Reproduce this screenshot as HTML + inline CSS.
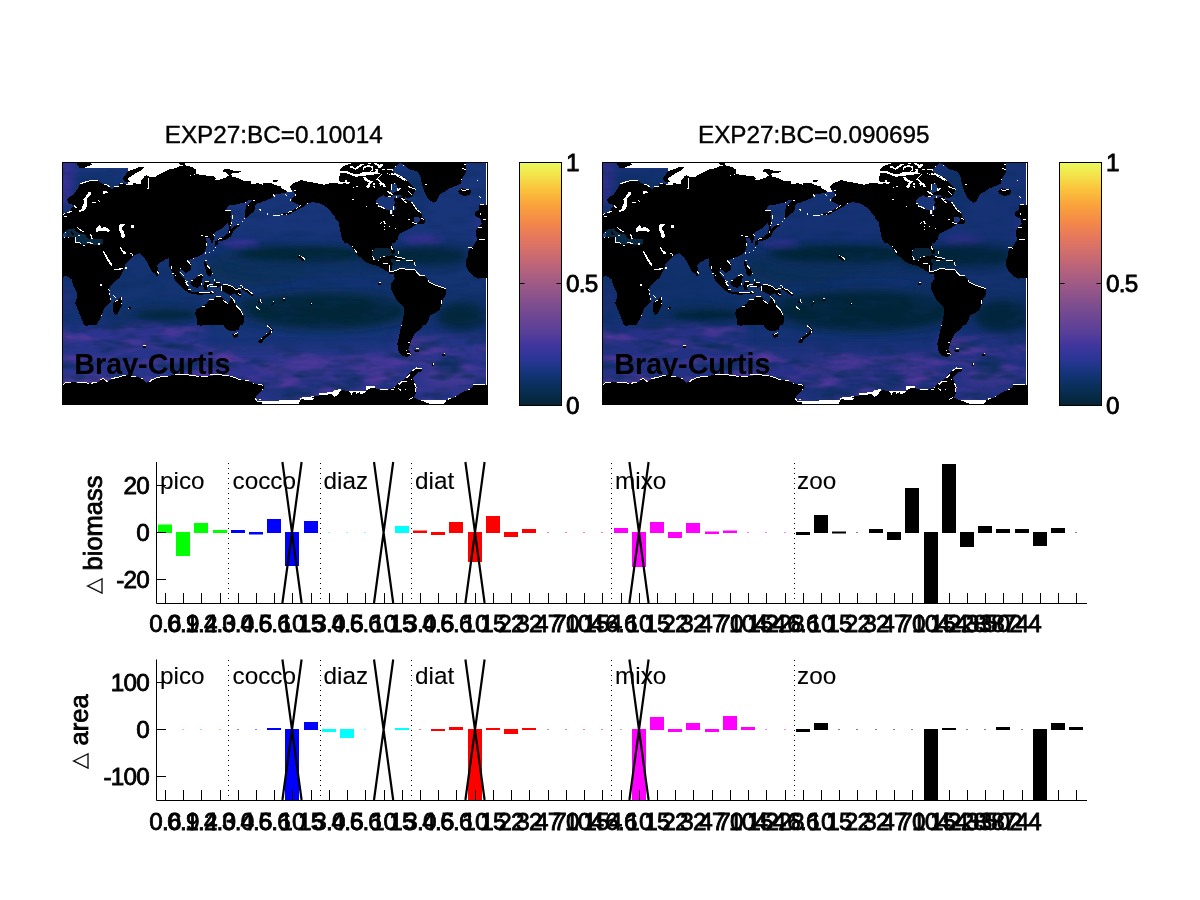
<!DOCTYPE html>
<html><head><meta charset="utf-8"><title>EXP27 Bray-Curtis</title>
<style>
html,body{margin:0;padding:0;background:#fff;}
body{width:1200px;height:900px;overflow:hidden;position:relative;}
svg{position:absolute;left:0;top:0;display:block;}
text{font-family:"Liberation Sans",Arial,Helvetica,sans-serif;fill:#000;stroke:#000;stroke-width:0.4px;}
text.d{stroke-width:0.8px;letter-spacing:-0.8px;}
text.y{stroke-width:0.8px;}
text.g{stroke-width:0.1px;}
text.b{stroke-width:0;}
</style></head><body>
<svg width="1200" height="900" viewBox="0 0 1200 900">
<defs>
<clipPath id="mclip"><rect x="62.5" y="162.5" width="425.0" height="242.0"/></clipPath>
<filter id="b1" x="-50%" y="-50%" width="200%" height="200%"><feGaussianBlur stdDeviation="1"/></filter><filter id="b2" x="-50%" y="-50%" width="200%" height="200%"><feGaussianBlur stdDeviation="2"/></filter><filter id="b3" x="-50%" y="-50%" width="200%" height="200%"><feGaussianBlur stdDeviation="3"/></filter><filter id="b4" x="-50%" y="-50%" width="200%" height="200%"><feGaussianBlur stdDeviation="4"/></filter><filter id="b5" x="-50%" y="-50%" width="200%" height="200%"><feGaussianBlur stdDeviation="5"/></filter><filter id="b6" x="-50%" y="-50%" width="200%" height="200%"><feGaussianBlur stdDeviation="6"/></filter><filter id="b7" x="-50%" y="-50%" width="200%" height="200%"><feGaussianBlur stdDeviation="7"/></filter><filter id="b8" x="-50%" y="-50%" width="200%" height="200%"><feGaussianBlur stdDeviation="8"/></filter><filter id="b9" x="-50%" y="-50%" width="200%" height="200%"><feGaussianBlur stdDeviation="9"/></filter><filter id="b10" x="-50%" y="-50%" width="200%" height="200%"><feGaussianBlur stdDeviation="10"/></filter>
<filter id="texp" x="0" y="0" width="100%" height="100%" color-interpolation-filters="sRGB">
<feTurbulence type="fractalNoise" baseFrequency="0.025 0.09" numOctaves="3" seed="7"/>
<feColorMatrix type="matrix" values="0 0 0 0 0.35  0 0 0 0 0.22  0 0 0 0 0.62  2.4 0 0 0 -1.1"/>
</filter>
<filter id="texd" x="0" y="0" width="100%" height="100%" color-interpolation-filters="sRGB">
<feTurbulence type="fractalNoise" baseFrequency="0.03 0.1" numOctaves="3" seed="23"/>
<feColorMatrix type="matrix" values="0 0 0 0 0.05  0 0 0 0 0.18  0 0 0 0 0.36  0 2.6 0 0 -1.2"/>
</filter>
<linearGradient id="sofade" x1="0" y1="0" x2="0" y2="1"><stop offset="0" stop-color="#fff" stop-opacity="0"/><stop offset="0.2" stop-color="#fff" stop-opacity="1"/><stop offset="1" stop-color="#fff" stop-opacity="1"/></linearGradient>
<mask id="somask"><g filter="url(#b5)"><rect x="40" y="326" width="165" height="90" fill="#fff"/><rect x="195" y="348" width="210" height="70" fill="#fff"/><rect x="395" y="336" width="115" height="80" fill="#fff"/></g></mask>
<linearGradient id="cbar" x1="0" y1="1" x2="0" y2="0">
<stop offset="0" stop-color="#042333"/>
<stop offset="0.06" stop-color="#082e52"/>
<stop offset="0.125" stop-color="#123474"/>
<stop offset="0.19" stop-color="#2a3696"/>
<stop offset="0.25" stop-color="#42369e"/>
<stop offset="0.31" stop-color="#5c4098"/>
<stop offset="0.375" stop-color="#704892"/>
<stop offset="0.5" stop-color="#9e5a86"/>
<stop offset="0.56" stop-color="#b6627c"/>
<stop offset="0.625" stop-color="#ce6c6e"/>
<stop offset="0.7" stop-color="#e87a5a"/>
<stop offset="0.75" stop-color="#f3874a"/>
<stop offset="0.83" stop-color="#faa53a"/>
<stop offset="0.9" stop-color="#fac83e"/>
<stop offset="0.95" stop-color="#f3e44b"/>
<stop offset="1" stop-color="#e8fa5b"/>
</linearGradient>
<g id="mapland" shape-rendering="crispEdges">
<path d="M82.9 161.8L170.9 161.8L170.9 187.5L127.8 187.5L127.8 168.2L82.9 168.2ZM169.1 161.8L280.9 161.8L280.9 187.5L169.1 187.5ZM279.1 161.8L390.9 161.8L390.9 187.5L292.4 187.5L292.4 192.3L279.1 192.3ZM485.8 162.3L487.4 162.3L487.4 242.5L485.8 242.5ZM485.8 241.1L487.4 241.1L487.4 324.5L485.8 324.5ZM256.2 400.5L280.9 400.5L280.9 404.9L256.2 404.9ZM279.1 400.1L301.1 400.1L301.1 404.9L279.1 404.9ZM299.7 397.8L314.8 396.0L314.8 401.9L299.7 401.9ZM319.0 392.8L332.2 392.3L333.2 390.9L340.5 388.6L341.0 396.4L319.0 397.3ZM348.8 391.4L367.1 390.5L367.1 394.6L348.8 395.5ZM365.7 386.1L374.9 386.3L375.3 390.0L365.7 390.0ZM379.9 388.8L388.2 388.8L388.2 390.5L379.9 390.5ZM485.8 323.1L487.4 323.1L487.4 384.5L485.8 384.5ZM419.3 399.9L446.8 399.9L443.2 404.9L429.4 404.9ZM473.0 383.8L485.3 383.8L485.3 386.3L473.0 386.3Z" fill="#fff"/>
<path d="M76.0 161.8L90.2 161.8L92.1 165.0L87.5 166.4L83.8 168.2L79.7 168.2L77.9 165.5ZM62.5 215.0L65.5 214.1L69.2 211.3L71.9 207.7L73.8 205.4L71.0 204.0L67.8 203.1L67.3 199.4L70.1 196.7L73.8 194.4L76.5 190.2L78.8 186.6L79.7 184.3L83.8 182.5L90.2 180.6L97.6 180.3L100.3 182.5L104.0 184.3L107.7 185.2L110.4 187.5L111.3 189.3L114.1 187.5L118.7 186.6L119.6 183.8L123.2 182.9L126.0 184.8L128.8 183.8L132.4 184.8L133.3 182.9L137.9 183.8L140.7 184.3L140.7 181.5L144.3 176.5L146.6 175.1L148.9 176.5L152.6 177.4L156.2 177.0L157.2 175.1L160.8 173.8L165.4 171.0L170.9 169.2L170.9 242.5L62.5 242.5ZM122.3 178.8L127.8 171.5L138.8 167.3L143.9 167.3L143.0 169.2L133.3 174.7L127.8 178.3L129.7 181.5L126.0 182.0ZM169.1 169.2L176.4 168.2L179.2 166.4L184.7 165.0L192.9 167.3L196.6 170.1L195.7 173.8L200.2 174.7L206.7 175.6L213.1 176.0L215.8 177.9L214.9 180.6L221.3 179.2L226.8 177.0L228.7 175.6L226.8 172.8L223.2 171.9L223.6 169.2L229.6 169.2L234.2 171.0L240.6 171.5L240.6 172.4L234.2 172.8L230.5 173.8L232.3 176.5L237.8 177.9L243.3 180.6L250.7 181.5L251.6 183.8L258.0 183.4L261.7 183.8L266.2 182.9L270.8 182.9L275.4 185.2L280.9 186.6L280.9 193.5L275.4 193.9L272.7 197.6L267.2 199.9L261.7 202.2L257.1 203.5L255.2 205.8L254.3 211.3L250.7 214.1L247.0 217.8L244.7 218.7L245.2 211.3L246.1 205.8L249.8 203.1L252.5 200.3L247.9 200.3L245.2 203.1L239.7 203.5L234.2 204.9L229.6 204.9L225.9 209.5L230.5 210.4L231.4 215.0L229.6 216.8L228.7 222.3L225.0 226.0L221.3 228.8L215.8 231.5L213.1 235.2L214.0 237.9L213.1 242.5L210.8 242.5L210.3 237.9L206.7 237.9L204.8 242.5L169.1 242.5ZM179.2 163.2L185.6 163.2L184.7 164.6L180.1 164.6ZM272.2 180.0L278.2 180.0L276.3 182.0L273.6 181.8ZM228.2 216.8L231.0 216.8L231.4 228.8L237.8 223.7L239.7 225.5L233.2 231.0L231.0 236.5L225.9 239.8L217.7 241.6L216.8 238.8L223.6 236.5L227.8 233.3L228.7 229.7ZM290.1 186.6L293.8 182.9L301.1 180.2L307.5 181.5L314.8 182.9L324.0 184.8L333.2 182.5L335.0 183.4L336.8 187.5L390.9 187.5L390.9 242.5L344.2 242.5L340.5 232.4L338.7 222.3L335.0 216.8L330.4 211.3L325.8 206.8L319.4 203.1L313.0 202.2L307.5 203.1L303.8 206.8L296.5 210.0L289.2 214.5L281.8 215.0L281.8 213.6L287.3 213.2L293.8 209.5L299.7 205.4L295.6 203.1L291.0 201.2L291.9 198.5L295.6 194.8L293.8 191.2L291.0 189.3ZM279.1 187.5L283.7 189.3L287.3 191.6L285.5 193.2L279.1 193.6ZM389.1 161.8L466.1 161.8L466.1 171.9L462.4 178.3L460.6 183.8L454.2 186.6L449.6 188.4L445.0 191.2L439.5 194.8L435.8 202.2L433.1 202.6L428.5 199.4L424.8 193.0L423.0 187.5L421.2 181.1L420.2 175.6L416.6 171.0L408.3 169.2L404.7 165.5L400.1 162.8L395.5 166.4L392.8 169.2L389.1 169.2ZM389.1 169.2L392.8 169.2L393.7 173.8L398.2 175.1L403.8 178.3L408.3 182.0L415.7 189.3L413.8 193.9L412.0 196.7L408.3 198.0L401.0 196.7L396.4 196.7L389.1 195.3ZM389.1 200.3L392.8 200.3L403.8 199.4L411.1 201.2L416.6 208.6L421.2 212.2L422.1 216.8L424.8 219.6L424.8 223.2L421.2 224.2L416.6 224.2L411.1 227.8L405.6 230.6L400.1 233.3L397.3 238.8L395.5 242.5L389.1 242.5ZM458.3 191.2L460.6 188.4L469.8 188.9L471.1 191.6L469.8 194.8L464.2 196.2L459.7 193.9ZM479.4 204.9L485.3 204.9L487.7 205.8L487.7 242.5L478.0 242.5L475.7 233.3L477.1 228.3L481.7 224.2L480.8 218.7L475.2 215.9L475.2 212.2L478.9 209.5ZM62.5 241.1L170.9 241.1L170.9 257.6L165.4 259.4L160.8 262.2L157.2 265.8L159.0 273.2L157.2 276.8L155.3 274.1L151.7 271.3L148.0 264.0L144.3 257.6L139.8 253.0L133.3 255.8L129.7 260.3L125.1 264.9L124.2 268.6L122.3 272.2L119.6 277.8L115.0 281.4L111.3 285.1L108.6 289.7L109.5 294.2L110.4 299.8L111.3 301.6L107.7 304.3L104.0 308.9L102.2 314.4L99.4 319.9L96.7 324.5L83.8 324.5L82.0 319.9L78.3 310.8L75.1 302.5L77.4 297.0L76.5 291.5L72.8 285.1L71.9 279.6L66.4 275.9L62.5 276.8ZM113.6 301.6L116.8 300.7L120.5 297.0L122.3 297.0L122.3 304.3L119.6 309.8L117.8 313.5L115.0 314.9L113.2 311.7L113.2 306.2ZM127.8 307.5L130.6 307.1L130.6 308.9L128.3 309.4ZM169.1 241.1L206.7 241.1L206.7 246.6L204.8 252.1L202.1 254.8L197.5 256.7L192.9 258.5L188.3 260.3L191.1 264.0L191.1 269.5L185.6 273.2L183.8 271.3L180.1 268.6L179.2 272.2L181.9 276.8L185.6 280.5L186.5 284.2L189.2 288.8L188.3 290.6L184.7 286.0L180.1 283.2L177.3 280.5L174.6 276.8L172.8 273.2L169.1 265.8ZM173.7 275.5L176.4 275.9L180.1 281.4L184.7 286.0L188.3 289.7L192.0 292.0L200.2 292.2L210.3 292.0L214.9 292.4L214.0 293.8L206.7 294.2L200.2 294.7L192.0 294.2L187.4 292.0L181.9 287.8L178.2 284.2L174.6 279.6ZM214.5 241.1L218.6 241.1L217.7 244.8L215.4 246.1ZM204.8 260.3L206.7 264.9L210.3 267.7L212.2 273.2L210.3 276.8L206.7 275.0L205.8 269.5L203.9 264.0ZM192.0 280.5L197.5 276.8L201.2 274.1L203.0 275.9L202.1 280.5L201.2 285.1L197.5 287.8L192.9 286.9L190.2 283.2ZM204.8 281.4L210.3 280.5L209.4 284.2L206.7 286.0L207.6 289.7L204.8 290.6L203.0 286.0ZM214.0 282.3L219.5 282.3L221.3 286.0L217.7 287.8L213.1 286.0ZM221.3 286.0L225.0 284.2L230.5 286.0L236.0 287.8L239.7 289.7L241.5 293.3L240.6 297.0L237.8 295.2L234.2 293.3L230.5 295.2L226.8 293.3L223.2 291.5L219.5 289.7ZM241.5 285.1L243.3 287.8L247.9 289.7L253.4 294.2L252.5 296.5L247.0 292.4L242.4 289.7L240.6 286.9ZM258.0 301.6L260.8 299.8L261.7 303.4L258.9 303.4ZM270.8 305.2L274.5 301.6L275.4 302.5L271.8 306.2ZM195.7 309.8L202.1 306.2L206.7 303.4L209.4 299.8L214.0 298.8L215.8 296.1L221.3 297.0L225.0 300.7L228.7 303.4L230.5 298.8L231.4 296.1L233.2 298.8L235.1 303.4L237.8 306.2L240.6 310.8L243.3 315.3L244.2 319.9L243.3 324.5L197.5 324.5L196.6 318.1L195.2 314.4ZM390.9 241.1L390.9 273.6L386.3 271.3L380.8 267.7L377.2 265.8L369.8 264.0L364.3 261.2L360.7 257.6L357.9 255.8L353.3 249.3L349.7 245.7L346.9 241.1ZM297.4 256.7L299.7 255.8L304.8 258.5L305.2 260.3L302.5 260.8ZM282.3 298.4L285.0 298.4L285.0 300.7L282.8 300.7ZM378.1 282.8L380.4 282.3L380.8 284.6L378.5 284.9ZM310.1 303.0L312.1 303.0L312.1 304.8L310.1 304.8ZM389.1 272.2L393.7 271.3L399.2 269.0L402.8 268.1L406.5 269.5L414.8 269.5L416.6 272.2L419.3 275.0L424.8 275.5L427.6 279.6L429.4 282.3L433.1 284.2L439.5 286.5L445.9 288.8L445.9 294.2L443.2 298.8L441.8 304.3L439.5 309.8L435.8 312.6L430.3 315.3L428.5 319.9L426.2 324.5L401.9 324.5L403.8 314.4L403.8 307.1L400.1 303.4L396.4 299.8L393.7 294.2L390.9 288.8L391.4 283.2L394.6 278.7L393.7 274.1L389.1 274.1ZM389.1 241.1L391.8 241.1L392.8 247.5L395.5 252.1L393.7 253.9L389.1 253.0ZM389.1 254.8L394.6 255.8L399.2 256.7L404.7 258.5L403.8 260.3L396.4 260.3L393.7 259.0L389.1 258.5ZM405.6 259.9L413.8 260.3L414.0 261.7L406.0 261.4ZM487.7 241.1L487.7 277.8L481.7 277.8L478.9 278.7L475.2 277.3L471.6 274.1L467.9 270.4L466.1 265.8L466.1 260.3L467.9 255.8L468.8 249.3L472.5 247.5L476.2 241.1ZM389.1 260.3L392.8 263.1L391.8 269.5L389.1 271.3ZM95.8 323.1L92.1 324.9L85.7 325.8L82.9 323.1ZM62.5 384.5L65.5 382.7L71.0 382.2L78.3 382.7L87.5 383.1L96.7 382.7L101.2 379.9L103.1 378.5L107.7 381.8L111.3 379.0L118.7 377.2L126.0 374.9L131.5 376.7L137.9 377.2L142.5 379.0L146.2 382.7L151.7 379.9L157.2 377.6L164.5 376.2L170.9 376.2L170.9 404.9L62.5 404.9ZM143.0 346.0L145.7 346.0L145.7 347.8L143.0 347.8ZM169.1 376.2L175.5 374.0L188.3 374.9L199.3 376.2L208.5 376.2L217.7 374.9L228.7 375.8L234.2 377.2L237.8 379.0L245.2 380.4L252.5 382.7L258.0 384.5L263.5 385.4L263.5 389.1L259.8 392.8L256.2 396.4L255.2 399.2L258.0 401.9L261.7 401.9L261.7 404.9L169.1 404.9ZM209.4 323.1L206.7 324.9L200.2 325.8L196.6 323.1ZM241.0 323.1L238.8 329.5L234.2 331.3L228.7 330.4L225.0 327.7L222.2 323.1ZM232.3 334.5L237.8 332.2L238.3 335.9L235.1 338.7L232.8 336.8ZM258.0 341.4L261.7 337.8L265.3 335.0L269.0 332.2L270.8 329.5L267.2 325.8L269.0 324.9L273.1 329.5L271.8 333.2L267.2 336.8L263.5 340.5L260.8 343.7ZM299.2 404.9L299.7 400.5L301.1 399.2L303.8 399.4L307.5 400.1L312.1 400.5L313.9 398.7L311.2 397.3L314.8 396.4L319.4 395.5L331.3 394.1L335.0 396.9L338.7 393.7L340.5 390.9L343.2 390.0L349.7 391.8L351.5 395.0L353.3 391.8L355.2 391.4L356.1 393.7L359.8 392.3L360.7 394.6L366.2 391.8L368.0 389.5L370.8 388.2L375.3 388.2L379.9 390.0L390.9 389.8L390.9 404.9ZM401.9 323.1L424.8 323.1L420.2 329.5L414.8 333.2L412.0 338.7L410.2 344.2L408.3 349.7L411.1 353.3L410.2 355.2L406.5 357.0L401.9 355.6L398.7 351.5L397.3 344.2L399.2 335.9L400.5 329.5ZM414.3 350.4L418.9 349.9L418.6 351.5L415.2 351.7ZM442.2 353.5L445.0 353.5L445.0 355.6L442.4 355.6ZM432.0 363.4L434.2 363.4L434.2 365.7L432.2 365.7ZM389.1 389.1L394.6 387.2L397.3 383.6L401.9 380.8L405.6 378.1L408.3 374.4L412.0 370.8L416.6 367.5L422.1 368.5L422.5 370.8L417.5 372.6L413.8 376.2L412.9 379.0L414.8 382.7L416.6 387.2L415.7 393.7L413.8 397.3L417.5 399.2L421.2 400.5L429.4 403.8L430.3 404.9L389.1 404.9ZM443.2 404.9L446.8 400.1L454.2 397.3L461.5 392.8L467.9 390.0L472.5 387.2L473.4 385.0L485.3 385.2L487.7 384.5L487.7 404.9ZM340.2 169.3L343.8 165.8L349.6 164.1L352.5 162.6L399.8 162.6L395.7 165.8L393.3 169.3L393.3 171.7L395.7 173.4L398.0 174.6L400.9 176.9L405.0 177.5L405.0 224.2L400.9 225.9L398.6 231.8L398.0 240.0L342.6 240.0L340.8 234.7L339.7 224.2L337.3 220.1L334.7 218.3L334.7 183.3L337.3 183.3L339.7 183.9L344.9 183.3L349.0 184.5L349.6 182.2L347.2 182.2L347.2 180.4L345.5 180.1L344.9 182.2L340.8 182.2L338.5 180.4L339.1 177.5L340.2 174.0Z" fill="#000"/>
<path d="M88.4 192.1L91.2 192.5L90.7 194.4L86.6 198.5L86.6 201.2L87.5 204.0L86.1 208.6L84.8 210.4L79.7 211.8L78.3 210.9L82.0 208.6L82.5 205.8L84.3 203.1L83.4 199.4L85.7 196.7ZM92.1 202.0L96.2 202.0L96.2 203.1L92.1 203.1ZM103.1 191.3L107.2 191.2L107.7 193.0L103.5 193.7ZM95.3 230.1L96.7 227.8L99.4 225.1L100.8 226.5L101.2 228.3L104.9 226.9L107.7 228.3L110.0 230.6L108.6 232.0L104.0 230.6L100.3 231.0L96.7 232.0ZM118.7 225.5L121.0 224.2L125.1 224.2L124.2 226.0L122.3 226.9L122.3 229.7L124.2 232.4L125.1 236.1L123.2 237.9L120.5 237.0L120.5 233.3L118.7 229.7ZM131.0 225.3L133.8 225.1L133.8 227.8L131.3 227.8ZM102.6 251.2L104.0 250.7L107.7 257.6L111.8 263.5L112.2 265.8L110.9 265.8L106.8 259.4ZM120.0 247.0L121.0 247.0L123.2 250.7L126.5 252.5L125.5 253.9L123.2 253.5L121.0 250.2ZM129.7 253.0L132.4 253.5L133.3 255.8L132.4 255.9L131.5 254.4L129.5 253.9ZM114.1 269.0L123.2 268.1L123.2 269.0L115.0 270.6L114.1 270.4ZM124.6 266.9L126.5 266.9L126.5 268.6L124.6 268.6ZM99.9 284.0L102.2 284.0L101.7 285.5L100.2 285.8ZM340.2 171.1L346.7 171.1L349.6 172.5L354.2 174.0L358.3 174.0L362.4 172.5L367.7 172.2L372.3 172.5L375.8 171.1L378.2 172.5L379.9 173.7L373.5 174.6L367.7 174.6L365.3 176.0L360.1 176.0L357.2 176.9L353.7 176.3L349.6 174.0L345.5 173.1L340.2 173.4ZM350.2 165.8L352.5 166.4L355.4 168.2L358.3 165.8L360.7 164.1L363.6 163.5L364.2 165.2L362.4 165.2L360.1 167.0L357.2 169.3L354.8 169.6L352.5 168.2L350.2 167.6ZM364.2 166.4L367.7 165.2L372.3 165.8L373.5 167.6L372.3 171.1L370.0 171.7L371.8 169.3L371.2 167.6L367.7 167.0L364.8 167.9L363.0 170.5L362.4 168.8ZM374.1 163.2L377.0 163.5L379.3 164.7L382.2 164.1L383.1 165.2L381.1 167.6L377.6 167.6L378.2 165.8L375.8 165.2ZM375.2 168.8L377.6 168.8L378.5 172.5L376.7 172.5L375.8 170.5ZM382.2 168.8L385.2 168.8L385.2 169.9L382.2 169.9ZM386.9 168.8L391.0 168.8L391.0 169.9L386.9 169.9ZM391.9 168.8L393.3 169.3L393.3 171.1L392.2 170.8ZM363.0 176.9L365.3 176.3L367.7 179.2L371.2 181.0L372.9 180.4L372.3 182.8L370.0 184.5L369.4 187.4L367.7 188.0L365.3 186.8L367.7 184.5L368.8 182.2L365.3 181.0L363.6 178.7ZM383.4 174.0L381.1 175.2L379.3 177.5L377.6 178.7L380.5 181.0L382.8 182.8L385.2 184.5L385.8 186.8L383.4 187.4L382.8 185.1L380.5 185.7L379.3 183.3L380.5 182.8L378.2 180.4L375.8 179.2L377.0 178.1L379.3 175.8L381.1 174.0ZM372.9 183.0L375.8 183.9L375.2 185.1L373.5 184.8ZM372.9 186.2L375.2 186.2L374.7 187.7L372.9 187.4ZM352.5 186.8L354.2 186.8L354.2 188.0L352.5 188.0ZM355.7 186.0L358.0 186.0L358.0 186.8L355.7 186.8ZM351.9 198.8L354.2 198.8L354.2 200.0L351.9 200.0ZM386.9 173.1L389.2 173.7L389.8 174.9L387.5 174.0ZM391.0 173.7L396.2 173.4L398.0 175.2L399.8 176.9L405.0 179.8L405.0 181.0L400.9 178.7L396.8 176.3L395.7 174.6L391.0 174.9ZM368.2 163.0L371.2 163.0L371.2 163.8L368.2 163.8ZM365.9 205.8L367.1 205.8L367.1 207.0L365.9 207.0Z" fill="#fff"/>
<path d="M391.8 183.8L395.5 183.4L396.9 186.6L395.5 190.2L392.3 190.2ZM414.3 217.3L419.3 216.8L419.8 220.5L417.5 222.8L414.3 221.9Z" fill="#1d3a80"/><path d="M372.6 250.2L376.2 248.0L383.6 247.5L388.2 248.4L390.9 249.3L390.9 255.8L384.5 256.7L380.8 257.6L378.1 260.3L374.4 260.3L372.1 255.8Z" fill="#062339"/><path d="M375.8 200.8L378.2 197.9L381.1 196.2L383.4 195.3L385.2 196.8L387.5 197.3L391.0 197.3L393.3 195.0L400.9 195.0L402.1 197.3L393.3 197.9L394.5 200.8L394.5 203.8L393.9 206.1L395.7 207.2L395.7 209.0L393.3 210.2L392.8 214.2L391.9 214.2L391.6 210.2L389.8 209.6L386.3 209.6L384.0 207.8L381.1 206.7L378.2 204.9L376.1 203.2Z" fill="#1a347a"/><path d="M392.2 184.5L395.7 183.9L396.8 185.7L395.7 188.0L399.2 187.4L399.8 189.2L396.2 191.5L393.3 193.2L391.0 192.7L389.8 190.3L392.2 188.6L391.6 186.2Z" fill="#143a74"/><path d="M63.2 233.1L65.8 230.2L70.5 228.7L74.0 228.4L75.2 230.8L78.7 233.1L83.3 234.2L85.7 234.8L86.8 237.8L89.2 239.5L92.7 238.9L97.3 238.9L103.2 239.5L103.2 243.0L100.8 244.8L93.8 244.8L89.2 243.0L85.7 244.2L82.2 244.8L79.8 243.0L76.3 241.8L75.8 237.2L71.7 236.6L68.2 236.9L63.2 237.2Z" fill="#082a45"/><path d="M63.2 233.7L65.2 232.5L66.4 234.2L65.8 236.6L63.2 236.9Z" fill="#1a3a8a"/><path d="M71.1 230.2L73.4 232.5L74.3 235.4L72.0 235.1L70.8 232.5ZM77.5 229.6L79.2 230.3L81.0 232.5L79.2 232.5Z" fill="#000000"/>
<path d="M391.0 183.6L392.2 183.6L392.2 187.4L391.0 187.4ZM393.6 183.0L395.1 183.0L395.1 183.9L393.6 183.9ZM386.9 190.9L388.7 190.9L392.8 194.4L391.6 195.0L387.5 192.1ZM396.8 189.8L399.8 188.0L400.9 188.6L398.0 191.5ZM388.1 196.2L391.0 196.2L391.0 197.0L388.1 197.0ZM396.0 195.9L397.1 195.9L397.1 197.9L396.0 197.9ZM400.9 197.9L405.0 199.1L405.0 200.2L400.9 198.8ZM375.8 202.9L378.2 202.9L378.2 204.0L375.8 204.0ZM378.2 205.2L381.1 206.1L384.6 207.8L384.6 209.0L381.1 207.5L378.2 206.4ZM390.1 210.2L391.6 210.2L391.6 213.7L390.1 213.7ZM391.9 214.8L393.9 214.8L393.9 216.0L391.9 216.0ZM392.8 206.1L394.2 206.1L394.2 207.8L392.8 207.8ZM379.9 223.0L381.7 221.8L382.0 222.7L380.5 223.9ZM383.1 221.0L384.6 221.0L385.8 223.0L385.8 223.9L384.3 223.9L384.0 222.1L383.1 221.8ZM383.9 225.9L385.1 225.9L385.1 227.1L383.9 227.1ZM388.8 225.9L389.9 225.9L389.9 227.1L388.8 227.1ZM383.9 228.8L385.1 228.8L385.1 230.0L383.9 230.0ZM394.8 228.0L396.0 228.0L396.0 229.1L394.8 229.1ZM64.1 216.1L67.0 216.1L66.4 216.9L64.1 216.9ZM76.9 227.0L78.1 227.0L78.1 228.1L76.9 228.1ZM79.8 229.9L81.0 229.9L81.0 231.0L79.8 231.0ZM82.2 231.0L83.9 231.0L83.9 231.9L82.2 231.9ZM78.1 234.8L80.1 234.8L80.1 236.0L78.1 236.0ZM90.0 234.0L90.9 233.7L92.1 235.4L91.5 235.9ZM90.9 238.0L93.0 238.0L93.0 238.9L90.9 238.9ZM74.9 237.2L75.8 237.2L75.8 241.8L79.8 241.9L81.0 243.9L80.1 244.0L79.5 242.7L74.9 242.5ZM83.0 244.8L85.1 244.8L85.1 245.9L83.0 245.9ZM87.1 241.7L89.8 241.7L89.8 242.5L87.1 242.5ZM90.0 243.0L93.0 243.0L93.0 243.9L90.0 243.9ZM97.9 243.0L100.2 243.0L100.2 245.0L97.9 245.0ZM63.5 236.9L65.0 236.9L65.0 237.9L63.5 237.9ZM67.9 236.9L69.0 236.9L69.0 237.9L67.9 237.9ZM64.7 231.9L65.8 231.9L65.8 233.1L64.7 233.1Z" fill="#fff"/>
</g>
<g id="mapover"><path d="M79.7 184.0L83.8 182.5L90.2 180.6L97.6 180.3M104.0 184.3L107.7 185.2L110.4 187.5M114.1 187.0L118.7 186.1M119.6 183.7L123.2 182.9M126.0 184.6L132.4 184.6M148.0 177.4L148.5 187.5L147.5 189.3M63.2 214.1L65.5 213.6M67.3 212.2L71.9 211.8M73.8 205.4L76.5 208.1M98.5 199.9L99.4 201.7M77.4 227.8L82.9 231.5M90.2 234.2L92.1 237.9M225.5 210.2L230.5 210.9M232.3 215.0L232.8 218.7M231.4 222.3L231.9 224.2M230.5 225.5L231.0 226.0M236.9 225.1L238.8 224.2M242.4 221.4L242.9 221.9M244.2 218.2L244.7 218.7M245.6 202.3L246.1 203.1M248.4 204.9L248.8 205.4M253.0 200.3L254.8 200.3M259.4 208.6L260.8 210.9M267.2 213.2L267.6 215.0M273.1 215.5L280.0 215.5M273.6 194.4L274.5 196.7M262.1 184.3L262.6 184.8M201.2 235.6L203.0 235.6M204.8 236.1L207.6 236.1M213.5 234.2L214.5 235.6M229.6 231.0L229.8 232.9M217.7 239.3L221.8 238.4M190.2 175.1L190.6 175.6M194.3 174.2L194.8 174.7M285.0 194.8L287.3 195.3M294.7 195.3L296.0 194.8M290.3 199.4L290.5 200.8M293.8 190.2L295.6 190.4M306.6 204.5L307.5 202.6M299.2 207.2L300.6 205.4M295.6 208.6L297.9 207.8M288.2 212.2L291.5 211.3M280.9 214.1L282.8 214.1M286.4 213.6L286.9 214.5M332.2 213.6L332.4 214.5M390.9 173.8L397.3 174.5L403.8 178.3L407.4 181.5M408.3 186.6L415.7 189.2M408.3 191.2L412.0 195.3M397.3 188.4L400.1 190.2M401.0 198.0L406.5 203.1M411.5 201.7L416.6 209.5L420.7 212.7M421.2 218.2L424.4 219.6M411.5 222.8L416.6 223.2M408.3 219.6L409.7 219.8M390.5 169.6L392.8 169.2M395.5 166.4L395.7 166.9M402.8 165.5L403.8 165.7M424.8 185.2L426.7 184.0M460.6 188.9L463.3 190.7L468.8 189.3M464.7 164.1L465.6 164.6M462.4 168.7L465.6 169.2M461.5 178.8L461.7 179.7M477.3 180.2L477.4 181.5M478.5 196.7L480.8 197.1M479.4 204.0L484.4 204.5M482.6 219.6L485.8 219.1M478.0 227.6L481.7 227.6M478.9 239.3L485.3 239.0M480.3 213.2L480.6 215.0M391.4 184.3L391.4 190.2M390.9 192.1L391.1 194.8M393.7 206.3L393.7 210.0M390.9 212.2L391.4 214.1M392.3 215.5L393.7 215.5M395.5 228.3L395.7 228.8M76.5 242.5L79.7 242.5M82.9 245.2L84.8 245.2M87.5 242.5L93.0 243.4M98.0 243.4L99.9 243.7M108.6 289.2L109.5 290.6M109.3 293.3L109.7 295.2M110.2 298.4L110.6 299.8M113.2 295.6L115.9 297.5M115.0 301.6L117.8 300.2M121.2 297.5L121.4 299.8M121.2 303.0L121.4 304.3M127.8 308.5L128.8 308.0M101.2 315.3L101.7 315.8M157.4 271.3L158.5 273.6M206.2 242.9L206.7 246.1M215.4 247.0L215.8 248.0M213.1 250.2L213.5 251.2M209.0 252.5L209.4 252.8M205.3 252.5L205.8 254.4M187.0 260.3L190.6 264.5M192.9 258.5L193.4 259.0M204.8 260.3L206.7 260.5M206.7 265.4L210.3 268.6M212.2 273.2L212.3 273.6M171.4 266.3L171.7 268.6M172.3 273.6L173.7 273.6M175.0 275.5L175.5 275.9M180.1 268.6L180.5 269.5M180.1 272.2L183.8 275.9M185.1 280.5L187.0 281.4L185.6 282.8L188.3 286.0M188.3 289.7L190.6 289.9M190.6 280.7L192.9 280.5M198.4 275.5L201.6 274.3L202.5 276.4M201.2 283.2L201.6 284.6M204.8 281.4L209.4 281.6M214.0 279.1L214.5 281.4M215.8 282.3L220.0 282.8M207.6 286.9L208.0 285.1L213.1 284.6M210.3 286.5L216.8 286.5M199.3 292.4L209.9 292.2M211.2 291.5L214.0 292.6M221.3 286.5L221.8 290.6M223.2 284.6L226.8 284.6L232.3 286.5L236.0 289.7L240.6 288.3M240.1 285.5L242.4 286.0L242.9 287.4M244.2 288.8L247.9 290.1L253.0 294.2M237.8 293.8L240.6 294.2M215.8 296.1L221.3 297.0M209.4 299.8L213.5 299.3M202.1 306.6L204.8 306.4M223.2 300.7L227.8 303.4M230.5 296.1L234.2 300.7L235.1 303.4M236.0 305.2L240.6 310.3L243.3 315.3M260.3 299.3L261.2 303.0M273.1 302.0L274.5 301.6M256.2 306.6L259.8 310.0M352.4 246.1L352.6 246.6M354.2 249.3L357.5 253.5M299.2 255.6L299.7 255.9M301.1 256.2L304.8 259.2M372.1 250.4L372.4 250.8M372.4 255.8L374.4 260.3M378.1 260.3L378.5 260.6M380.4 257.6L380.8 257.1M383.1 256.5L385.0 256.5M383.1 263.5L388.2 263.5M389.5 265.4L389.5 271.8M379.0 282.3L380.6 282.8M282.8 298.4L284.6 298.6M311.0 303.2L311.6 303.6M391.4 245.7L392.3 249.8M398.2 251.2L398.4 254.4M395.0 256.5L404.7 258.7M396.0 260.3L400.1 260.3M406.5 260.3L413.4 261.1M413.8 261.7L415.7 266.3M389.1 271.5L393.7 271.3L399.2 269.0L402.8 268.1L406.5 269.5L414.8 269.5L416.6 272.2L419.3 275.0L424.8 275.5M427.6 279.6L429.4 282.3L433.1 284.2L439.5 286.5L445.9 288.8M441.3 299.8L441.5 304.3M467.9 247.5L473.0 248.2M63.2 385.0L65.5 382.7L71.0 382.0M77.4 382.7L89.3 383.1M91.2 383.1L96.7 382.7M100.3 379.9L103.1 378.5L107.7 381.8M111.3 378.8L118.7 377.0L126.0 374.9M130.6 376.7L136.1 377.0M140.7 378.5L143.4 378.8M148.9 382.2L151.7 379.9L157.2 377.6L164.5 376.2L168.2 376.2M143.4 345.5L145.7 345.8M175.5 374.2L188.3 374.9L199.3 376.4M201.2 376.2L208.5 376.4M210.3 374.9L217.7 374.6L228.7 375.6M229.6 376.2L234.2 377.2L237.8 379.0L240.6 379.0M245.2 380.4L248.8 380.8M252.5 382.7L254.3 383.6M258.0 384.5L263.5 385.2M261.7 389.5L263.0 389.8M255.2 398.7L258.0 401.9L261.7 401.0M259.4 399.4L261.2 399.7M234.2 334.5L237.7 332.7M267.2 325.8L271.8 329.5M266.2 332.7L266.4 333.6M261.7 338.2L262.1 338.7M271.3 330.9L271.6 333.2M401.0 325.4L401.5 325.8M407.9 342.3L409.7 342.3M406.0 350.6L406.5 351.0M407.4 353.5L410.9 354.1M416.1 348.6L418.6 348.9M444.1 353.5L444.5 354.1M433.1 363.4L433.3 364.8M412.5 370.8L416.6 368.0L422.5 369.1M406.5 378.1L410.2 374.4M410.6 379.0L412.5 379.5M398.2 382.7L399.2 384.5L401.9 381.3L407.0 381.8M394.1 387.2L395.5 386.8M390.9 389.5L393.7 389.3M398.2 388.2L401.0 390.5M405.6 389.1L406.5 389.5M414.3 382.7L416.1 387.2L415.7 391.8M409.2 399.6L413.4 397.3M447.8 399.2L450.5 398.4M455.1 396.6L455.5 397.0M467.9 389.5L469.8 389.3" fill="none" stroke="#fff" stroke-width="1" shape-rendering="crispEdges" clip-path="url(#mclip)"/></g>
</defs>
<rect width="1200" height="900" fill="#fff"/>
<g transform="translate(0,0)">
<g clip-path="url(#mclip)">
<rect x="62.5" y="162.5" width="425.0" height="242.0" fill="#18357a"/>
<ellipse cx="66" cy="180" rx="9" ry="25" fill="#3a3298" opacity="0.9" filter="url(#b4)"/>
<ellipse cx="100" cy="186" rx="28" ry="7" fill="#0c3262" opacity="0.7" filter="url(#b4)"/>
<rect x="40" y="250" width="470" height="75" fill="#0c3262" opacity="0.35" filter="url(#b8)"/>
<ellipse cx="258" cy="268" rx="52" ry="17" fill="#093257" opacity="0.9" filter="url(#b4)"/>
<ellipse cx="240" cy="195" rx="12" ry="10" fill="#3a3298" opacity="0.35" filter="url(#b4)"/>
<ellipse cx="300" cy="256" rx="85" ry="12" fill="#0c3262" opacity="0.9" filter="url(#b5)"/>
<ellipse cx="310" cy="268" rx="78" ry="9" fill="#0c3262" opacity="0.7" filter="url(#b4)"/>
<ellipse cx="302" cy="254" rx="66" ry="7.5" fill="#052538" opacity="1" filter="url(#b3)"/>
<ellipse cx="241" cy="244" rx="19" ry="4" fill="#3a3298" opacity="0.95" filter="url(#b2)"/>
<ellipse cx="328" cy="310" rx="96" ry="22" fill="#0c3262" opacity="1" filter="url(#b5)"/>
<ellipse cx="326" cy="311" rx="78" ry="16.5" fill="#052538" opacity="1" filter="url(#b4)"/>
<ellipse cx="262" cy="305" rx="25" ry="6" fill="#052538" opacity="0.8" filter="url(#b4)"/>
<ellipse cx="330" cy="283" rx="42" ry="3" fill="#18357a" opacity="0.7" filter="url(#b3)"/>
<ellipse cx="160" cy="314" rx="46" ry="10" fill="#0c3262" opacity="0.8" filter="url(#b5)"/>
<ellipse cx="166" cy="315" rx="30" ry="4.5" fill="#052538" opacity="0.95" filter="url(#b3)"/>
<ellipse cx="130" cy="334" rx="50" ry="7" fill="#3a3298" opacity="0.8" filter="url(#b5)"/>
<rect x="40" y="328" width="165" height="82" fill="#2d3590" opacity="0.75" filter="url(#b6)"/>
<rect x="195" y="350" width="210" height="60" fill="#2d3590" opacity="0.75" filter="url(#b6)"/>
<rect x="395" y="338" width="115" height="72" fill="#2d3590" opacity="0.75" filter="url(#b6)"/>
<ellipse cx="85" cy="386" rx="28" ry="10" fill="#5f3ea0" opacity="0.75" filter="url(#b6)"/>
<ellipse cx="230" cy="380" rx="30" ry="12" fill="#3a3298" opacity="0.6" filter="url(#b6)"/>
<ellipse cx="300" cy="368" rx="40" ry="8" fill="#5f3ea0" opacity="0.45" filter="url(#b6)"/>
<ellipse cx="372" cy="365" rx="30" ry="8" fill="#5f3ea0" opacity="0.45" filter="url(#b6)"/>
<ellipse cx="450" cy="378" rx="30" ry="10" fill="#5f3ea0" opacity="0.5" filter="url(#b6)"/>
<ellipse cx="295" cy="392" rx="30" ry="7" fill="#0c3262" opacity="0.5" filter="url(#b5)"/>
<ellipse cx="424" cy="240" rx="20" ry="4.5" fill="#3a3298" opacity="0.9" filter="url(#b3)"/>
<ellipse cx="432" cy="256" rx="37" ry="10" fill="#052538" opacity="0.9" filter="url(#b4)"/>
<ellipse cx="390" cy="258" rx="26" ry="9" fill="#052538" opacity="0.9" filter="url(#b3)"/>
<ellipse cx="462" cy="316" rx="26" ry="14" fill="#052538" opacity="0.9" filter="url(#b5)"/>
<ellipse cx="417" cy="185" rx="10" ry="16" fill="#0c3262" opacity="0.7" filter="url(#b4)"/>
<ellipse cx="481" cy="235" rx="6" ry="30" fill="#3a3298" opacity="0.45" filter="url(#b4)"/>
<ellipse cx="68" cy="300" rx="6" ry="14" fill="#3a3298" opacity="0.4" filter="url(#b4)"/>
<g mask="url(#somask)"><rect x="62" y="322" width="426" height="84" filter="url(#texp)"/><rect x="62" y="322" width="426" height="84" filter="url(#texd)"/></g>
<rect x="62" y="162" width="426" height="166" filter="url(#texd)" opacity="0.5"/>
<use href="#mapland"/>
</g>
<text x="74.3" y="373.5" font-size="28.7" font-weight="bold" class="b">Bray-Curtis</text>
<use href="#mapover"/>
<rect x="62.5" y="162.5" width="425.0" height="242.0" fill="none" stroke="#000" stroke-width="1"/>
<text x="273.8" y="143.3" text-anchor="middle" font-size="24.3">EXP27:BC=0.10014</text>
<rect x="519.5" y="162.5" width="42" height="243" fill="url(#cbar)" stroke="#000" stroke-width="1"/>
<path d="M519.5 283.5h5M561.5 283.5h-5" stroke="#000"/>
<text x="566" y="171" font-size="24.3" class="d">1</text>
<text x="566" y="292" font-size="24.3" class="d">0.5</text>
<text x="566" y="413.7" font-size="24.3" class="d">0</text>
</g>
<g transform="translate(540,0)">
<g clip-path="url(#mclip)">
<rect x="62.5" y="162.5" width="425.0" height="242.0" fill="#18357a"/>
<ellipse cx="66" cy="180" rx="9" ry="25" fill="#3a3298" opacity="0.765" filter="url(#b4)"/>
<ellipse cx="100" cy="186" rx="29.4" ry="7.7" fill="#0c3262" opacity="0.7" filter="url(#b4)"/>
<rect x="40" y="250" width="470" height="75" fill="#0c3262" opacity="0.35" filter="url(#b8)"/>
<ellipse cx="258" cy="268" rx="52" ry="17" fill="#093257" opacity="0.9" filter="url(#b4)"/>
<ellipse cx="240" cy="195" rx="12" ry="10" fill="#3a3298" opacity="0.2975" filter="url(#b4)"/>
<ellipse cx="300" cy="256" rx="89.25" ry="13.2" fill="#0c3262" opacity="0.9" filter="url(#b5)"/>
<ellipse cx="310" cy="268" rx="81.9" ry="9.9" fill="#0c3262" opacity="0.7" filter="url(#b4)"/>
<ellipse cx="302" cy="254" rx="72.6" ry="8.625" fill="#052538" opacity="1" filter="url(#b3)"/>
<ellipse cx="241" cy="244" rx="19" ry="4" fill="#3a3298" opacity="0.8075" filter="url(#b2)"/>
<ellipse cx="328" cy="310" rx="100.8" ry="24.2" fill="#0c3262" opacity="1" filter="url(#b5)"/>
<ellipse cx="326" cy="311" rx="85.8" ry="18.975" fill="#052538" opacity="1" filter="url(#b4)"/>
<ellipse cx="262" cy="305" rx="27.5" ry="6.9" fill="#052538" opacity="0.8" filter="url(#b4)"/>
<ellipse cx="330" cy="283" rx="42" ry="3" fill="#18357a" opacity="0.7" filter="url(#b3)"/>
<ellipse cx="160" cy="314" rx="48.3" ry="11" fill="#0c3262" opacity="0.8" filter="url(#b5)"/>
<ellipse cx="166" cy="315" rx="33" ry="5.175" fill="#052538" opacity="0.95" filter="url(#b3)"/>
<ellipse cx="130" cy="334" rx="50" ry="7" fill="#3a3298" opacity="0.68" filter="url(#b5)"/>
<rect x="40" y="328" width="165" height="82" fill="#2d3590" opacity="0.6375" filter="url(#b6)"/>
<rect x="195" y="350" width="210" height="60" fill="#2d3590" opacity="0.6375" filter="url(#b6)"/>
<rect x="395" y="338" width="115" height="72" fill="#2d3590" opacity="0.6375" filter="url(#b6)"/>
<ellipse cx="85" cy="386" rx="28" ry="10" fill="#5f3ea0" opacity="0.6375" filter="url(#b6)"/>
<ellipse cx="230" cy="380" rx="30" ry="12" fill="#3a3298" opacity="0.51" filter="url(#b6)"/>
<ellipse cx="300" cy="368" rx="40" ry="8" fill="#5f3ea0" opacity="0.3825" filter="url(#b6)"/>
<ellipse cx="372" cy="365" rx="30" ry="8" fill="#5f3ea0" opacity="0.3825" filter="url(#b6)"/>
<ellipse cx="450" cy="378" rx="30" ry="10" fill="#5f3ea0" opacity="0.425" filter="url(#b6)"/>
<ellipse cx="295" cy="392" rx="31.5" ry="7.7" fill="#0c3262" opacity="0.5" filter="url(#b5)"/>
<ellipse cx="424" cy="240" rx="20" ry="4.5" fill="#3a3298" opacity="0.765" filter="url(#b3)"/>
<ellipse cx="432" cy="256" rx="40.7" ry="11.5" fill="#052538" opacity="0.9" filter="url(#b4)"/>
<ellipse cx="390" cy="258" rx="28.6" ry="10.35" fill="#052538" opacity="0.9" filter="url(#b3)"/>
<ellipse cx="462" cy="316" rx="28.6" ry="16.1" fill="#052538" opacity="0.9" filter="url(#b5)"/>
<ellipse cx="417" cy="185" rx="10.5" ry="17.6" fill="#0c3262" opacity="0.7" filter="url(#b4)"/>
<ellipse cx="481" cy="235" rx="6" ry="30" fill="#3a3298" opacity="0.3825" filter="url(#b4)"/>
<ellipse cx="68" cy="300" rx="6" ry="14" fill="#3a3298" opacity="0.34" filter="url(#b4)"/>
<rect x="40" y="150" width="470" height="270" fill="#06243c" opacity="0.08" filter="url(#b1)"/>
<g mask="url(#somask)"><rect x="62" y="322" width="426" height="84" filter="url(#texp)"/><rect x="62" y="322" width="426" height="84" filter="url(#texd)"/></g>
<rect x="62" y="162" width="426" height="166" filter="url(#texd)" opacity="0.5"/>
<use href="#mapland"/>
</g>
<text x="74.3" y="373.5" font-size="28.7" font-weight="bold" class="b">Bray-Curtis</text>
<use href="#mapover"/>
<rect x="62.5" y="162.5" width="425.0" height="242.0" fill="none" stroke="#000" stroke-width="1"/>
<text x="273.8" y="143.3" text-anchor="middle" font-size="24.3">EXP27:BC=0.090695</text>
<rect x="519.5" y="162.5" width="42" height="243" fill="url(#cbar)" stroke="#000" stroke-width="1"/>
<path d="M519.5 283.5h5M561.5 283.5h-5" stroke="#000"/>
<text x="566" y="171" font-size="24.3" class="d">1</text>
<text x="566" y="292" font-size="24.3" class="d">0.5</text>
<text x="566" y="413.7" font-size="24.3" class="d">0</text>
</g>
<g id="chart1">
<rect x="285.0" y="532.0" width="14" height="34.0" fill="#0000ff"/>
<rect x="468.0" y="532.0" width="14" height="30.0" fill="#ff0000"/>
<rect x="632.0" y="532.0" width="14" height="35.0" fill="#ff00ff"/>
<rect x="158.0" y="524.5" width="14" height="8.5" fill="#00ff00"/>
<rect x="176.0" y="532.0" width="14" height="24.0" fill="#00ff00"/>
<rect x="194.0" y="523.0" width="14" height="10.0" fill="#00ff00"/>
<rect x="213.0" y="530.0" width="14" height="3.0" fill="#00ff00"/>
<rect x="231.0" y="530.0" width="14" height="3.0" fill="#0000ff"/>
<rect x="249.0" y="532.0" width="14" height="2.5" fill="#0000ff"/>
<rect x="267.0" y="519.0" width="14" height="14.0" fill="#0000ff"/>
<rect x="304.0" y="521.0" width="14" height="12.0" fill="#0000ff"/>
<rect x="328.5" y="532.0" width="1" height="1" fill="#00ffff"/>
<rect x="346.5" y="532.0" width="1" height="1" fill="#00ffff"/>
<rect x="364.5" y="532.0" width="1" height="1" fill="#00ffff"/>
<rect x="395.0" y="526.0" width="14" height="7.0" fill="#00ffff"/>
<rect x="413.0" y="530.5" width="14" height="2.5" fill="#ff0000"/>
<rect x="431.0" y="532.0" width="14" height="3.0" fill="#ff0000"/>
<rect x="449.0" y="522.0" width="14" height="11.0" fill="#ff0000"/>
<rect x="486.0" y="516.0" width="14" height="17.0" fill="#ff0000"/>
<rect x="504.0" y="532.0" width="14" height="5.0" fill="#ff0000"/>
<rect x="522.0" y="529.0" width="14" height="4.0" fill="#ff0000"/>
<rect x="547.5" y="532.0" width="1" height="1" fill="#ff0000"/>
<rect x="565.5" y="532.0" width="1" height="1" fill="#ff0000"/>
<rect x="583.5" y="532.0" width="1" height="1" fill="#ff0000"/>
<rect x="601.5" y="532.0" width="1" height="1" fill="#ff0000"/>
<rect x="614.0" y="528.0" width="14" height="5.0" fill="#ff00ff"/>
<rect x="650.0" y="522.0" width="14" height="11.0" fill="#ff00ff"/>
<rect x="668.0" y="532.0" width="14" height="6.0" fill="#ff00ff"/>
<rect x="686.0" y="523.0" width="14" height="10.0" fill="#ff00ff"/>
<rect x="705.0" y="531.5" width="14" height="2.5" fill="#ff00ff"/>
<rect x="723.0" y="530.5" width="14" height="2.5" fill="#ff00ff"/>
<rect x="747.5" y="532.0" width="1" height="1" fill="#ff00ff"/>
<rect x="765.5" y="532.0" width="1" height="1" fill="#ff00ff"/>
<rect x="784.5" y="532.0" width="1" height="1" fill="#ff00ff"/>
<rect x="796.0" y="532.0" width="14" height="3.0" fill="#000000"/>
<rect x="814.0" y="515.0" width="14" height="18.0" fill="#000000"/>
<rect x="832.0" y="531.5" width="14" height="2.0" fill="#000000"/>
<rect x="856.5" y="532.0" width="1" height="1" fill="#000000"/>
<rect x="869.0" y="529.0" width="14" height="4.0" fill="#000000"/>
<rect x="887.0" y="532.0" width="14" height="8.0" fill="#000000"/>
<rect x="905.0" y="488.0" width="14" height="45.0" fill="#000000"/>
<rect x="924.0" y="532.0" width="14" height="71.0" fill="#000000"/>
<rect x="942.0" y="464.0" width="14" height="69.0" fill="#000000"/>
<rect x="960.0" y="532.0" width="14" height="15.0" fill="#000000"/>
<rect x="978.0" y="526.0" width="14" height="7.0" fill="#000000"/>
<rect x="996.0" y="529.0" width="14" height="4.0" fill="#000000"/>
<rect x="1015.0" y="529.0" width="14" height="4.0" fill="#000000"/>
<rect x="1033.0" y="532.0" width="14" height="14.0" fill="#000000"/>
<rect x="1051.0" y="528.0" width="14" height="5.0" fill="#000000"/>
<rect x="1075.5" y="532.0" width="1" height="1" fill="#000000"/>
<line x1="228.5" y1="463" x2="228.5" y2="603" stroke="#000" stroke-width="1" stroke-dasharray="1 4"/>
<line x1="320.5" y1="463" x2="320.5" y2="603" stroke="#000" stroke-width="1" stroke-dasharray="1 4"/>
<line x1="411.5" y1="463" x2="411.5" y2="603" stroke="#000" stroke-width="1" stroke-dasharray="1 4"/>
<line x1="611.5" y1="463" x2="611.5" y2="603" stroke="#000" stroke-width="1" stroke-dasharray="1 4"/>
<line x1="794.5" y1="463" x2="794.5" y2="603" stroke="#000" stroke-width="1" stroke-dasharray="1 4"/>
<path d="M156.5 462 V603.5 H1087" fill="none" stroke="#000" stroke-width="1"/>
<line x1="165.5" y1="593" x2="165.5" y2="603" stroke="#000"/>
<line x1="183.5" y1="593" x2="183.5" y2="603" stroke="#000"/>
<line x1="201.5" y1="593" x2="201.5" y2="603" stroke="#000"/>
<line x1="220.5" y1="593" x2="220.5" y2="603" stroke="#000"/>
<line x1="238.5" y1="593" x2="238.5" y2="603" stroke="#000"/>
<line x1="256.5" y1="593" x2="256.5" y2="603" stroke="#000"/>
<line x1="274.5" y1="593" x2="274.5" y2="603" stroke="#000"/>
<line x1="292.5" y1="593" x2="292.5" y2="603" stroke="#000"/>
<line x1="311.5" y1="593" x2="311.5" y2="603" stroke="#000"/>
<line x1="329.5" y1="593" x2="329.5" y2="603" stroke="#000"/>
<line x1="347.5" y1="593" x2="347.5" y2="603" stroke="#000"/>
<line x1="365.5" y1="593" x2="365.5" y2="603" stroke="#000"/>
<line x1="384.5" y1="593" x2="384.5" y2="603" stroke="#000"/>
<line x1="402.5" y1="593" x2="402.5" y2="603" stroke="#000"/>
<line x1="420.5" y1="593" x2="420.5" y2="603" stroke="#000"/>
<line x1="438.5" y1="593" x2="438.5" y2="603" stroke="#000"/>
<line x1="456.5" y1="593" x2="456.5" y2="603" stroke="#000"/>
<line x1="475.5" y1="593" x2="475.5" y2="603" stroke="#000"/>
<line x1="493.5" y1="593" x2="493.5" y2="603" stroke="#000"/>
<line x1="511.5" y1="593" x2="511.5" y2="603" stroke="#000"/>
<line x1="529.5" y1="593" x2="529.5" y2="603" stroke="#000"/>
<line x1="548.5" y1="593" x2="548.5" y2="603" stroke="#000"/>
<line x1="566.5" y1="593" x2="566.5" y2="603" stroke="#000"/>
<line x1="584.5" y1="593" x2="584.5" y2="603" stroke="#000"/>
<line x1="602.5" y1="593" x2="602.5" y2="603" stroke="#000"/>
<line x1="621.5" y1="593" x2="621.5" y2="603" stroke="#000"/>
<line x1="639.5" y1="593" x2="639.5" y2="603" stroke="#000"/>
<line x1="657.5" y1="593" x2="657.5" y2="603" stroke="#000"/>
<line x1="675.5" y1="593" x2="675.5" y2="603" stroke="#000"/>
<line x1="693.5" y1="593" x2="693.5" y2="603" stroke="#000"/>
<line x1="712.5" y1="593" x2="712.5" y2="603" stroke="#000"/>
<line x1="730.5" y1="593" x2="730.5" y2="603" stroke="#000"/>
<line x1="748.5" y1="593" x2="748.5" y2="603" stroke="#000"/>
<line x1="766.5" y1="593" x2="766.5" y2="603" stroke="#000"/>
<line x1="785.5" y1="593" x2="785.5" y2="603" stroke="#000"/>
<line x1="803.5" y1="593" x2="803.5" y2="603" stroke="#000"/>
<line x1="821.5" y1="593" x2="821.5" y2="603" stroke="#000"/>
<line x1="839.5" y1="593" x2="839.5" y2="603" stroke="#000"/>
<line x1="857.5" y1="593" x2="857.5" y2="603" stroke="#000"/>
<line x1="876.5" y1="593" x2="876.5" y2="603" stroke="#000"/>
<line x1="894.5" y1="593" x2="894.5" y2="603" stroke="#000"/>
<line x1="912.5" y1="593" x2="912.5" y2="603" stroke="#000"/>
<line x1="931.5" y1="593" x2="931.5" y2="603" stroke="#000"/>
<line x1="949.5" y1="593" x2="949.5" y2="603" stroke="#000"/>
<line x1="967.5" y1="593" x2="967.5" y2="603" stroke="#000"/>
<line x1="985.5" y1="593" x2="985.5" y2="603" stroke="#000"/>
<line x1="1003.5" y1="593" x2="1003.5" y2="603" stroke="#000"/>
<line x1="1022.5" y1="593" x2="1022.5" y2="603" stroke="#000"/>
<line x1="1040.5" y1="593" x2="1040.5" y2="603" stroke="#000"/>
<line x1="1058.5" y1="593" x2="1058.5" y2="603" stroke="#000"/>
<line x1="1076.5" y1="593" x2="1076.5" y2="603" stroke="#000"/>
<line x1="156" y1="485.5" x2="166" y2="485.5" stroke="#000"/>
<text x="149" y="494" text-anchor="end" font-size="24.3" class="d">20</text>
<line x1="156" y1="532.5" x2="166" y2="532.5" stroke="#000"/>
<text x="149" y="541" text-anchor="end" font-size="24.3" class="d">0</text>
<line x1="156" y1="579.5" x2="166" y2="579.5" stroke="#000"/>
<text x="149" y="588" text-anchor="end" font-size="24.3" class="d">-20</text>
<path d="M282.4 462 L301.6 603 M301.6 462 L282.4 603" stroke="#000" stroke-width="2.2" fill="none"/>
<path d="M374.0 462 L393.2 603 M393.2 462 L374.0 603" stroke="#000" stroke-width="2.2" fill="none"/>
<path d="M465.4 462 L484.6 603 M484.6 462 L465.4 603" stroke="#000" stroke-width="2.2" fill="none"/>
<path d="M629.4 462 L648.6 603 M648.6 462 L629.4 603" stroke="#000" stroke-width="2.2" fill="none"/>
<text x="160" y="489.3" font-size="24.3" class="g">pico</text>
<text x="232.5" y="489.3" font-size="24.3" class="g">cocco</text>
<text x="323.5" y="489.3" font-size="24.3" class="g">diaz</text>
<text x="415" y="489.3" font-size="24.3" class="g">diat</text>
<text x="615" y="489.3" font-size="24.3" class="g">mixo</text>
<text x="797" y="489.3" font-size="24.3" class="g">zoo</text>
<text x="165.0" y="632" text-anchor="middle" font-size="24.3" class="d">0.6</text>
<text x="183.0" y="632" text-anchor="middle" font-size="24.3" class="d">0.9</text>
<text x="201.0" y="632" text-anchor="middle" font-size="24.3" class="d">1.4</text>
<text x="219.6" y="632" text-anchor="middle" font-size="24.3" class="d">2.0</text>
<text x="237.8" y="632" text-anchor="middle" font-size="24.3" class="d">3.0</text>
<text x="256.1" y="632" text-anchor="middle" font-size="24.3" class="d">4.5</text>
<text x="274.3" y="632" text-anchor="middle" font-size="24.3" class="d">6.6</text>
<text x="292.0" y="632" text-anchor="middle" font-size="24.3" class="d">10</text>
<text x="310.7" y="632" text-anchor="middle" font-size="24.3" class="d">15</text>
<text x="329.0" y="632" text-anchor="middle" font-size="24.3" class="d">3.0</text>
<text x="347.2" y="632" text-anchor="middle" font-size="24.3" class="d">4.5</text>
<text x="365.4" y="632" text-anchor="middle" font-size="24.3" class="d">6.6</text>
<text x="383.6" y="632" text-anchor="middle" font-size="24.3" class="d">10</text>
<text x="401.9" y="632" text-anchor="middle" font-size="24.3" class="d">15</text>
<text x="420.0" y="632" text-anchor="middle" font-size="24.3" class="d">3.0</text>
<text x="438.0" y="632" text-anchor="middle" font-size="24.3" class="d">4.5</text>
<text x="456.0" y="632" text-anchor="middle" font-size="24.3" class="d">6.6</text>
<text x="475.0" y="632" text-anchor="middle" font-size="24.3" class="d">10</text>
<text x="493.0" y="632" text-anchor="middle" font-size="24.3" class="d">15</text>
<text x="511.0" y="632" text-anchor="middle" font-size="24.3" class="d">22</text>
<text x="529.0" y="632" text-anchor="middle" font-size="24.3" class="d">32</text>
<text x="547.7" y="632" text-anchor="middle" font-size="24.3" class="d">47</text>
<text x="565.9" y="632" text-anchor="middle" font-size="24.3" class="d">70</text>
<text x="584.1" y="632" text-anchor="middle" font-size="24.3" class="d">104</text>
<text x="602.3" y="632" text-anchor="middle" font-size="24.3" class="d">154</text>
<text x="621.0" y="632" text-anchor="middle" font-size="24.3" class="d">6.6</text>
<text x="639.0" y="632" text-anchor="middle" font-size="24.3" class="d">10</text>
<text x="657.0" y="632" text-anchor="middle" font-size="24.3" class="d">15</text>
<text x="675.0" y="632" text-anchor="middle" font-size="24.3" class="d">22</text>
<text x="693.0" y="632" text-anchor="middle" font-size="24.3" class="d">32</text>
<text x="712.0" y="632" text-anchor="middle" font-size="24.3" class="d">47</text>
<text x="730.0" y="632" text-anchor="middle" font-size="24.3" class="d">70</text>
<text x="748.1" y="632" text-anchor="middle" font-size="24.3" class="d">104</text>
<text x="766.3" y="632" text-anchor="middle" font-size="24.3" class="d">154</text>
<text x="784.6" y="632" text-anchor="middle" font-size="24.3" class="d">228</text>
<text x="803.0" y="632" text-anchor="middle" font-size="24.3" class="d">6.6</text>
<text x="821.0" y="632" text-anchor="middle" font-size="24.3" class="d">10</text>
<text x="839.0" y="632" text-anchor="middle" font-size="24.3" class="d">15</text>
<text x="857.5" y="632" text-anchor="middle" font-size="24.3" class="d">22</text>
<text x="876.0" y="632" text-anchor="middle" font-size="24.3" class="d">32</text>
<text x="894.0" y="632" text-anchor="middle" font-size="24.3" class="d">47</text>
<text x="912.0" y="632" text-anchor="middle" font-size="24.3" class="d">70</text>
<text x="931.0" y="632" text-anchor="middle" font-size="24.3" class="d">104</text>
<text x="949.0" y="632" text-anchor="middle" font-size="24.3" class="d">154</text>
<text x="967.0" y="632" text-anchor="middle" font-size="24.3" class="d">228</text>
<text x="985.0" y="632" text-anchor="middle" font-size="24.3" class="d">338</text>
<text x="1003.0" y="632" text-anchor="middle" font-size="24.3" class="d">502</text>
<text x="1022.0" y="632" text-anchor="middle" font-size="24.3" class="d">744</text>
<text transform="translate(101.5,534.5) rotate(-90)" text-anchor="middle" font-size="25.5" class="y"><tspan font-size="21" dy="-1.8" style="stroke-width:0.2px">△</tspan><tspan dy="1.8"> biomass</tspan></text>
</g>
<g id="chart2">
<rect x="285.0" y="729.0" width="14" height="71.5" fill="#0000ff"/>
<rect x="468.0" y="729.0" width="14" height="71.5" fill="#ff0000"/>
<rect x="632.0" y="729.0" width="14" height="71.5" fill="#ff00ff"/>
<rect x="164.5" y="729.0" width="1" height="1" fill="#00ff00"/>
<rect x="182.5" y="729.0" width="1" height="1" fill="#00ff00"/>
<rect x="200.5" y="729.0" width="1" height="1" fill="#00ff00"/>
<rect x="219.5" y="729.0" width="1" height="1" fill="#00ff00"/>
<rect x="237.5" y="729.0" width="1" height="1" fill="#0000ff"/>
<rect x="255.5" y="729.0" width="1" height="1" fill="#0000ff"/>
<rect x="267.0" y="728.0" width="14" height="2.0" fill="#0000ff"/>
<rect x="304.0" y="722.0" width="14" height="8.0" fill="#0000ff"/>
<rect x="322.0" y="729.0" width="14" height="3.0" fill="#00ffff"/>
<rect x="340.0" y="729.0" width="14" height="9.0" fill="#00ffff"/>
<rect x="364.5" y="729.0" width="1" height="1" fill="#00ffff"/>
<rect x="395.0" y="728.0" width="14" height="2.0" fill="#00ffff"/>
<rect x="419.5" y="729.0" width="1" height="1" fill="#ff0000"/>
<rect x="431.0" y="729.0" width="14" height="2.0" fill="#ff0000"/>
<rect x="449.0" y="727.0" width="14" height="3.0" fill="#ff0000"/>
<rect x="486.0" y="728.0" width="14" height="2.0" fill="#ff0000"/>
<rect x="504.0" y="729.0" width="14" height="5.0" fill="#ff0000"/>
<rect x="522.0" y="728.0" width="14" height="2.0" fill="#ff0000"/>
<rect x="547.5" y="729.0" width="1" height="1" fill="#ff0000"/>
<rect x="565.5" y="729.0" width="1" height="1" fill="#ff0000"/>
<rect x="583.5" y="729.0" width="1" height="1" fill="#ff0000"/>
<rect x="601.5" y="729.0" width="1" height="1" fill="#ff0000"/>
<rect x="620.5" y="729.0" width="1" height="1" fill="#ff00ff"/>
<rect x="650.0" y="717.0" width="14" height="13.0" fill="#ff00ff"/>
<rect x="668.0" y="729.0" width="14" height="3.0" fill="#ff00ff"/>
<rect x="686.0" y="723.0" width="14" height="7.0" fill="#ff00ff"/>
<rect x="705.0" y="729.0" width="14" height="3.0" fill="#ff00ff"/>
<rect x="723.0" y="716.0" width="14" height="14.0" fill="#ff00ff"/>
<rect x="741.0" y="727.0" width="14" height="3.0" fill="#ff00ff"/>
<rect x="765.5" y="729.0" width="1" height="1" fill="#ff00ff"/>
<rect x="784.5" y="729.0" width="1" height="1" fill="#ff00ff"/>
<rect x="796.0" y="729.0" width="14" height="3.0" fill="#000000"/>
<rect x="814.0" y="723.0" width="14" height="7.0" fill="#000000"/>
<rect x="838.5" y="729.0" width="1" height="1" fill="#000000"/>
<rect x="856.5" y="729.0" width="1" height="1" fill="#000000"/>
<rect x="875.5" y="729.0" width="1" height="1" fill="#000000"/>
<rect x="893.5" y="729.0" width="1" height="1" fill="#000000"/>
<rect x="911.5" y="729.0" width="1" height="1" fill="#000000"/>
<rect x="924.0" y="729.0" width="14" height="71.5" fill="#000000"/>
<rect x="942.0" y="728.0" width="14" height="2.0" fill="#000000"/>
<rect x="966.5" y="729.0" width="1" height="1" fill="#000000"/>
<rect x="984.5" y="729.0" width="1" height="1" fill="#000000"/>
<rect x="996.0" y="727.0" width="14" height="3.0" fill="#000000"/>
<rect x="1021.5" y="729.0" width="1" height="1" fill="#000000"/>
<rect x="1033.0" y="729.0" width="14" height="71.5" fill="#000000"/>
<rect x="1051.0" y="723.0" width="14" height="7.0" fill="#000000"/>
<rect x="1069.0" y="727.0" width="14" height="3.0" fill="#000000"/>
<line x1="228.5" y1="660" x2="228.5" y2="800" stroke="#000" stroke-width="1" stroke-dasharray="1 4"/>
<line x1="320.5" y1="660" x2="320.5" y2="800" stroke="#000" stroke-width="1" stroke-dasharray="1 4"/>
<line x1="411.5" y1="660" x2="411.5" y2="800" stroke="#000" stroke-width="1" stroke-dasharray="1 4"/>
<line x1="611.5" y1="660" x2="611.5" y2="800" stroke="#000" stroke-width="1" stroke-dasharray="1 4"/>
<line x1="794.5" y1="660" x2="794.5" y2="800" stroke="#000" stroke-width="1" stroke-dasharray="1 4"/>
<path d="M156.5 659.5 V800.5 H1087" fill="none" stroke="#000" stroke-width="1"/>
<line x1="165.5" y1="790" x2="165.5" y2="800" stroke="#000"/>
<line x1="183.5" y1="790" x2="183.5" y2="800" stroke="#000"/>
<line x1="201.5" y1="790" x2="201.5" y2="800" stroke="#000"/>
<line x1="220.5" y1="790" x2="220.5" y2="800" stroke="#000"/>
<line x1="238.5" y1="790" x2="238.5" y2="800" stroke="#000"/>
<line x1="256.5" y1="790" x2="256.5" y2="800" stroke="#000"/>
<line x1="274.5" y1="790" x2="274.5" y2="800" stroke="#000"/>
<line x1="292.5" y1="790" x2="292.5" y2="800" stroke="#000"/>
<line x1="311.5" y1="790" x2="311.5" y2="800" stroke="#000"/>
<line x1="329.5" y1="790" x2="329.5" y2="800" stroke="#000"/>
<line x1="347.5" y1="790" x2="347.5" y2="800" stroke="#000"/>
<line x1="365.5" y1="790" x2="365.5" y2="800" stroke="#000"/>
<line x1="384.5" y1="790" x2="384.5" y2="800" stroke="#000"/>
<line x1="402.5" y1="790" x2="402.5" y2="800" stroke="#000"/>
<line x1="420.5" y1="790" x2="420.5" y2="800" stroke="#000"/>
<line x1="438.5" y1="790" x2="438.5" y2="800" stroke="#000"/>
<line x1="456.5" y1="790" x2="456.5" y2="800" stroke="#000"/>
<line x1="475.5" y1="790" x2="475.5" y2="800" stroke="#000"/>
<line x1="493.5" y1="790" x2="493.5" y2="800" stroke="#000"/>
<line x1="511.5" y1="790" x2="511.5" y2="800" stroke="#000"/>
<line x1="529.5" y1="790" x2="529.5" y2="800" stroke="#000"/>
<line x1="548.5" y1="790" x2="548.5" y2="800" stroke="#000"/>
<line x1="566.5" y1="790" x2="566.5" y2="800" stroke="#000"/>
<line x1="584.5" y1="790" x2="584.5" y2="800" stroke="#000"/>
<line x1="602.5" y1="790" x2="602.5" y2="800" stroke="#000"/>
<line x1="621.5" y1="790" x2="621.5" y2="800" stroke="#000"/>
<line x1="639.5" y1="790" x2="639.5" y2="800" stroke="#000"/>
<line x1="657.5" y1="790" x2="657.5" y2="800" stroke="#000"/>
<line x1="675.5" y1="790" x2="675.5" y2="800" stroke="#000"/>
<line x1="693.5" y1="790" x2="693.5" y2="800" stroke="#000"/>
<line x1="712.5" y1="790" x2="712.5" y2="800" stroke="#000"/>
<line x1="730.5" y1="790" x2="730.5" y2="800" stroke="#000"/>
<line x1="748.5" y1="790" x2="748.5" y2="800" stroke="#000"/>
<line x1="766.5" y1="790" x2="766.5" y2="800" stroke="#000"/>
<line x1="785.5" y1="790" x2="785.5" y2="800" stroke="#000"/>
<line x1="803.5" y1="790" x2="803.5" y2="800" stroke="#000"/>
<line x1="821.5" y1="790" x2="821.5" y2="800" stroke="#000"/>
<line x1="839.5" y1="790" x2="839.5" y2="800" stroke="#000"/>
<line x1="857.5" y1="790" x2="857.5" y2="800" stroke="#000"/>
<line x1="876.5" y1="790" x2="876.5" y2="800" stroke="#000"/>
<line x1="894.5" y1="790" x2="894.5" y2="800" stroke="#000"/>
<line x1="912.5" y1="790" x2="912.5" y2="800" stroke="#000"/>
<line x1="931.5" y1="790" x2="931.5" y2="800" stroke="#000"/>
<line x1="949.5" y1="790" x2="949.5" y2="800" stroke="#000"/>
<line x1="967.5" y1="790" x2="967.5" y2="800" stroke="#000"/>
<line x1="985.5" y1="790" x2="985.5" y2="800" stroke="#000"/>
<line x1="1003.5" y1="790" x2="1003.5" y2="800" stroke="#000"/>
<line x1="1022.5" y1="790" x2="1022.5" y2="800" stroke="#000"/>
<line x1="1040.5" y1="790" x2="1040.5" y2="800" stroke="#000"/>
<line x1="1058.5" y1="790" x2="1058.5" y2="800" stroke="#000"/>
<line x1="1076.5" y1="790" x2="1076.5" y2="800" stroke="#000"/>
<line x1="156" y1="682.5" x2="166" y2="682.5" stroke="#000"/>
<text x="149" y="691" text-anchor="end" font-size="24.3" class="d">100</text>
<line x1="156" y1="729.5" x2="166" y2="729.5" stroke="#000"/>
<text x="149" y="738" text-anchor="end" font-size="24.3" class="d">0</text>
<line x1="156" y1="776.5" x2="166" y2="776.5" stroke="#000"/>
<text x="149" y="785" text-anchor="end" font-size="24.3" class="d">-100</text>
<path d="M282.4 659.5 L301.6 800 M301.6 659.5 L282.4 800" stroke="#000" stroke-width="2.2" fill="none"/>
<path d="M374.0 659.5 L393.2 800 M393.2 659.5 L374.0 800" stroke="#000" stroke-width="2.2" fill="none"/>
<path d="M465.4 659.5 L484.6 800 M484.6 659.5 L465.4 800" stroke="#000" stroke-width="2.2" fill="none"/>
<path d="M629.4 659.5 L648.6 800 M648.6 659.5 L629.4 800" stroke="#000" stroke-width="2.2" fill="none"/>
<text x="160" y="684.3" font-size="24.3" class="g">pico</text>
<text x="232.5" y="684.3" font-size="24.3" class="g">cocco</text>
<text x="323.5" y="684.3" font-size="24.3" class="g">diaz</text>
<text x="415" y="684.3" font-size="24.3" class="g">diat</text>
<text x="615" y="684.3" font-size="24.3" class="g">mixo</text>
<text x="797" y="684.3" font-size="24.3" class="g">zoo</text>
<text x="165.0" y="829.5" text-anchor="middle" font-size="24.3" class="d">0.6</text>
<text x="183.0" y="829.5" text-anchor="middle" font-size="24.3" class="d">0.9</text>
<text x="201.0" y="829.5" text-anchor="middle" font-size="24.3" class="d">1.4</text>
<text x="219.6" y="829.5" text-anchor="middle" font-size="24.3" class="d">2.0</text>
<text x="237.8" y="829.5" text-anchor="middle" font-size="24.3" class="d">3.0</text>
<text x="256.1" y="829.5" text-anchor="middle" font-size="24.3" class="d">4.5</text>
<text x="274.3" y="829.5" text-anchor="middle" font-size="24.3" class="d">6.6</text>
<text x="292.0" y="829.5" text-anchor="middle" font-size="24.3" class="d">10</text>
<text x="310.7" y="829.5" text-anchor="middle" font-size="24.3" class="d">15</text>
<text x="329.0" y="829.5" text-anchor="middle" font-size="24.3" class="d">3.0</text>
<text x="347.2" y="829.5" text-anchor="middle" font-size="24.3" class="d">4.5</text>
<text x="365.4" y="829.5" text-anchor="middle" font-size="24.3" class="d">6.6</text>
<text x="383.6" y="829.5" text-anchor="middle" font-size="24.3" class="d">10</text>
<text x="401.9" y="829.5" text-anchor="middle" font-size="24.3" class="d">15</text>
<text x="420.0" y="829.5" text-anchor="middle" font-size="24.3" class="d">3.0</text>
<text x="438.0" y="829.5" text-anchor="middle" font-size="24.3" class="d">4.5</text>
<text x="456.0" y="829.5" text-anchor="middle" font-size="24.3" class="d">6.6</text>
<text x="475.0" y="829.5" text-anchor="middle" font-size="24.3" class="d">10</text>
<text x="493.0" y="829.5" text-anchor="middle" font-size="24.3" class="d">15</text>
<text x="511.0" y="829.5" text-anchor="middle" font-size="24.3" class="d">22</text>
<text x="529.0" y="829.5" text-anchor="middle" font-size="24.3" class="d">32</text>
<text x="547.7" y="829.5" text-anchor="middle" font-size="24.3" class="d">47</text>
<text x="565.9" y="829.5" text-anchor="middle" font-size="24.3" class="d">70</text>
<text x="584.1" y="829.5" text-anchor="middle" font-size="24.3" class="d">104</text>
<text x="602.3" y="829.5" text-anchor="middle" font-size="24.3" class="d">154</text>
<text x="621.0" y="829.5" text-anchor="middle" font-size="24.3" class="d">6.6</text>
<text x="639.0" y="829.5" text-anchor="middle" font-size="24.3" class="d">10</text>
<text x="657.0" y="829.5" text-anchor="middle" font-size="24.3" class="d">15</text>
<text x="675.0" y="829.5" text-anchor="middle" font-size="24.3" class="d">22</text>
<text x="693.0" y="829.5" text-anchor="middle" font-size="24.3" class="d">32</text>
<text x="712.0" y="829.5" text-anchor="middle" font-size="24.3" class="d">47</text>
<text x="730.0" y="829.5" text-anchor="middle" font-size="24.3" class="d">70</text>
<text x="748.1" y="829.5" text-anchor="middle" font-size="24.3" class="d">104</text>
<text x="766.3" y="829.5" text-anchor="middle" font-size="24.3" class="d">154</text>
<text x="784.6" y="829.5" text-anchor="middle" font-size="24.3" class="d">228</text>
<text x="803.0" y="829.5" text-anchor="middle" font-size="24.3" class="d">6.6</text>
<text x="821.0" y="829.5" text-anchor="middle" font-size="24.3" class="d">10</text>
<text x="839.0" y="829.5" text-anchor="middle" font-size="24.3" class="d">15</text>
<text x="857.5" y="829.5" text-anchor="middle" font-size="24.3" class="d">22</text>
<text x="876.0" y="829.5" text-anchor="middle" font-size="24.3" class="d">32</text>
<text x="894.0" y="829.5" text-anchor="middle" font-size="24.3" class="d">47</text>
<text x="912.0" y="829.5" text-anchor="middle" font-size="24.3" class="d">70</text>
<text x="931.0" y="829.5" text-anchor="middle" font-size="24.3" class="d">104</text>
<text x="949.0" y="829.5" text-anchor="middle" font-size="24.3" class="d">154</text>
<text x="967.0" y="829.5" text-anchor="middle" font-size="24.3" class="d">228</text>
<text x="985.0" y="829.5" text-anchor="middle" font-size="24.3" class="d">338</text>
<text x="1003.0" y="829.5" text-anchor="middle" font-size="24.3" class="d">502</text>
<text x="1022.0" y="829.5" text-anchor="middle" font-size="24.3" class="d">744</text>
<text transform="translate(87.8,731.5) rotate(-90)" text-anchor="middle" font-size="25.5" class="y"><tspan font-size="21" dy="-1.8" style="stroke-width:0.2px">△</tspan><tspan dy="1.8"> area</tspan></text>
</g>
</svg>
</body></html>
